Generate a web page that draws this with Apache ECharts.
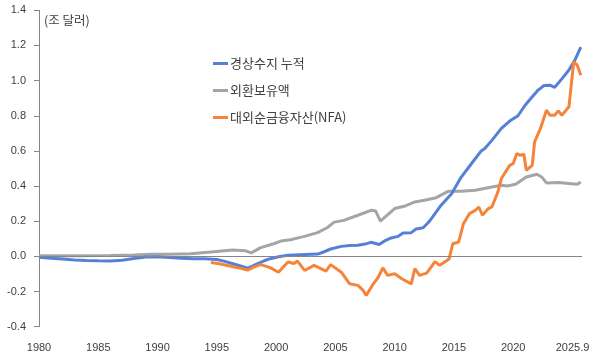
<!DOCTYPE html>
<html>
<head>
<meta charset="utf-8">
<script src="https://cdn.jsdelivr.net/npm/echarts@6/dist/echarts.min.js"></script>
<style>html,body{margin:0;padding:0;background:#fff;}#c{width:597px;height:358px;}</style>
</head>
<body>
<div id="c"></div>
<script>
// 경상수지 누적 (조 달러)
var caYears = [1980.0,1981.0,1982.0,1983.0,1984.0,1985.0,1986.0,1987.0,1988.0,1989.0,1990.0,1991.0,1992.0,1993.0,1994.0,1995.0,1995.6,1996.5,1997.0,1997.6,1998.0,1998.4,1999.0,1999.5,2000.2,2001.0,2002.0,2003.0,2003.5,2004.0,2004.6,2005.5,2006.2,2006.9,2007.5,2008.0,2008.7,2009.2,2009.7,2010.3,2010.7,2011.4,2011.8,2012.4,2012.8,2013.1,2013.9,2014.8,2015.6,2016.5,2017.3,2017.6,2018.2,2019.0,2019.7,2020.4,2021.0,2021.5,2022.1,2022.6,2023.1,2023.5,2024.1,2024.7,2025.2,2025.7];
var caVals  = [-0.005,-0.01,-0.015,-0.02,-0.023,-0.025,-0.026,-0.022,-0.012,-0.004,-0.002,-0.006,-0.01,-0.013,-0.013,-0.018,-0.027,-0.045,-0.055,-0.067,-0.055,-0.042,-0.025,-0.013,-0.002,0.006,0.01,0.012,0.013,0.025,0.042,0.057,0.062,0.063,0.07,0.08,0.068,0.09,0.105,0.114,0.133,0.135,0.156,0.163,0.19,0.215,0.29,0.357,0.45,0.53,0.6,0.614,0.66,0.728,0.77,0.8,0.86,0.9,0.946,0.972,0.974,0.962,1.01,1.06,1.117,1.19];

// 외환보유액
var fxYears = [1980,1983,1986,1988,1989.5,1991,1992.8,1994.5,1996.3,1997.4,1997.9,1998.7,1999.8,2000.4,2001.2,2002.4,2003.5,2004.3,2004.9,2005.7,2006.9,2008.0,2008.4,2008.8,2009.2,2010.0,2010.8,2011.7,2012.5,2013.5,2014.5,2015.6,2016.8,2018.2,2019.0,2019.5,2020.2,2021.1,2022.0,2022.4,2022.8,2023.8,2024.7,2025.4,2025.7];
var fxVals  = [0.003,0.004,0.005,0.008,0.012,0.012,0.015,0.025,0.036,0.032,0.02,0.05,0.072,0.087,0.095,0.114,0.135,0.163,0.195,0.205,0.234,0.262,0.258,0.2,0.225,0.272,0.285,0.31,0.319,0.334,0.37,0.37,0.376,0.395,0.405,0.4,0.41,0.452,0.467,0.452,0.418,0.42,0.414,0.41,0.423];

// 대외순금융자산(NFA)
var nfaYears = [1994.5,1995.2,1996.1,1997.0,1997.6,1998.2,1998.7,1999.5,2000.2,2000.6,2001.0,2001.5,2001.8,2002.4,2003.2,2003.6,2004.2,2004.6,2005.5,2006.2,2006.9,2007.3,2007.6,2008.2,2008.6,2009.0,2009.4,2010.0,2010.6,2011.4,2011.7,2012.1,2012.7,2013.4,2013.8,2014.4,2014.6,2014.9,2015.4,2015.8,2016.3,2016.8,2017.1,2017.4,2017.9,2018.2,2018.7,2019.0,2019.7,2020.0,2020.3,2020.6,2020.9,2021.1,2021.6,2021.8,2022.3,2022.8,2023.1,2023.5,2023.8,2024.1,2024.7,2025.1,2025.4,2025.7];
var nfaVals  = [-0.035,-0.042,-0.055,-0.068,-0.078,-0.058,-0.047,-0.064,-0.09,-0.06,-0.032,-0.04,-0.027,-0.08,-0.051,-0.064,-0.084,-0.047,-0.09,-0.156,-0.165,-0.19,-0.222,-0.156,-0.12,-0.065,-0.108,-0.099,-0.127,-0.156,-0.07,-0.108,-0.095,-0.03,-0.051,-0.023,-0.013,0.072,0.082,0.186,0.243,0.262,0.281,0.234,0.272,0.281,0.366,0.443,0.518,0.528,0.585,0.575,0.581,0.49,0.518,0.651,0.728,0.832,0.803,0.803,0.828,0.803,0.851,1.107,1.088,1.031];

var seriesNames = ['경상수지 누적', '외환보유액', '대외순금융자산(NFA)'];
var unitLabel = '(조 달러)';
var lastTickLabel = '2025.9';

function pairs(xs, ys) { return xs.map(function (x, i) { return [x, ys[i]]; }); }

var numFont = "'Liberation Sans', Arial, sans-serif";
var krFont = "'Noto Sans CJK KR', 'Liberation Sans', sans-serif";

var chart = echarts.init(document.getElementById('c'), null, { renderer: 'canvas' });
chart.setOption({
  animation: false,
  backgroundColor: '#ffffff',
  grid: { left: 39, right: 15, top: 10.3, bottom: 31.3, containLabel: false },
  graphic: [{
    type: 'text', left: 44, top: 14,
    style: { text: unitLabel, font: '12.5px ' + krFont, fill: '#404040' }
  }],
  legend: {
    orient: 'vertical', left: 208, top: 52,
    itemWidth: 15, itemHeight: 3, itemGap: 14,
    icon: 'rect',
    textStyle: { fontFamily: krFont, fontSize: 13, color: '#404040', padding: [0, 0, 0, -3] },
    data: seriesNames
  },
  xAxis: {
    type: 'value', min: 1980, max: 2025.8, interval: 5,
    axisLine: { show: false }, axisTick: { show: false }, splitLine: { show: false },
    axisLabel: {
      margin: 16, fontFamily: numFont, fontSize: 11, color: '#404040', showMaxLabel: false,
      formatter: function (v) {
        if (Math.abs(v % 5) > 1e-6) return '';
        return v === 2025 ? lastTickLabel : String(v);
      }
    }
  },
  yAxis: {
    type: 'value', min: -0.4, max: 1.4, interval: 0.2,
    axisLine: { show: true, lineStyle: { color: '#868686', width: 1 } },
    axisTick: { show: true, inside: false, length: 5, lineStyle: { color: '#868686' } },
    splitLine: { show: false },
    axisLabel: {
      margin: 13, fontFamily: numFont, fontSize: 11, color: '#404040',
      formatter: function (v) { return v.toFixed(1); }
    }
  },
  series: [
    {
      name: seriesNames[0], type: 'line', showSymbol: false, symbol: 'none',
      data: pairs(caYears, caVals),
      lineStyle: { color: '#5680d8', width: 3 }, itemStyle: { color: '#5680d8' },
      markLine: {
        silent: true, symbol: ['none', 'none'], label: { show: false },
        lineStyle: { color: '#868686', width: 1, type: 'solid' },
        data: [{ yAxis: 0 }]
      },
      z: 3
    },
    {
      name: seriesNames[1], type: 'line', showSymbol: false, symbol: 'none',
      data: pairs(fxYears, fxVals),
      lineStyle: { color: '#a5a5a5', width: 3 }, itemStyle: { color: '#a5a5a5' },
      z: 2
    },
    {
      name: seriesNames[2], type: 'line', showSymbol: false, symbol: 'none',
      data: pairs(nfaYears, nfaVals),
      lineStyle: { color: '#f5843a', width: 3 }, itemStyle: { color: '#f5843a' },
      z: 4
    }
  ]
});
</script>
</body>
</html>
